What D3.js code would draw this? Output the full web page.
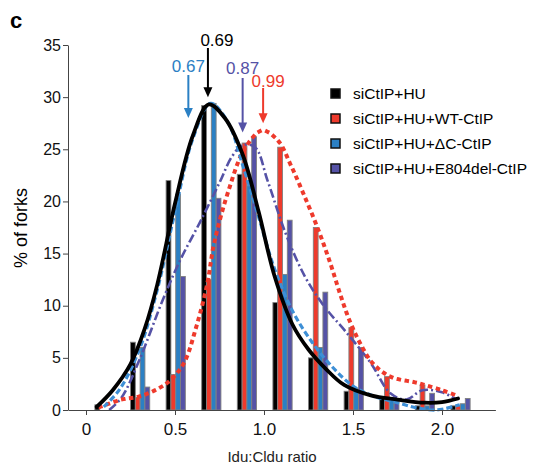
<!DOCTYPE html>
<html>
<head>
<meta charset="utf-8">
<script src="https://cdn.jsdelivr.net/npm/d3@7"></script>
<style>
  body { margin: 0; background: #fff; }
  svg { display: block; font-family: "Liberation Sans", Arial, sans-serif; }
  .tick text { fill: #111; }
  .domain, .tick line { stroke: #444; }
</style>
</head>
<body>
<svg id="chart" width="533" height="466"></svg>
<script>
// histogram bins (Idu:Cldu ratio) and % of forks per condition
const bins = [0.1, 0.3, 0.5, 0.7, 0.9, 1.1, 1.3, 1.5, 1.7, 1.9, 2.1];
const siHU     = [0.5, 6.5, 22.0, 29.2, 22.6, 10.3, 5.0, 1.8, 1.2, 0.4, 0.4];
const wtCtIP   = [0, 1.2, 3.4, 12.5, 25.6, 25.2, 17.5, 7.9, 3.2, 2.4, 0.4];
const dcCtIP   = [0, 6.0, 20.7, 29.4, 21.5, 13.0, 6.0, 2.1, 1.0, 0.4, 0.6];
const e804CtIP = [0, 2.2, 12.8, 20.3, 26.2, 18.2, 11.3, 6.0, 0.9, 1.6, 1.1];

// fitted curves as [ratio, %]
const siHUFit = [[0.06,0.3],[0.15,1.9],[0.25,4.4],[0.33,7.8],[0.4,12],[0.5,19.8],[0.6,26.3],[0.69,29.3],[0.78,28],[0.88,24.5],[0.97,19],[1.06,12.8],[1.16,8.2],[1.25,5.8],[1.35,3.9],[1.45,2.4],[1.6,1.4],[1.75,1.0],[1.9,0.7],[2.0,0.75],[2.09,1.1]];
const wtFit = [[0.08,0.3],[0.2,1.0],[0.3,1.3],[0.4,2.0],[0.47,2.8],[0.55,4.5],[0.62,8],[0.68,12],[0.72,16],[0.8,21],[0.89,25],[0.99,26.8],[1.08,25.8],[1.15,23.5],[1.22,20.8],[1.3,17.5],[1.37,14.2],[1.43,11],[1.48,8.6],[1.54,6.4],[1.61,4.5],[1.71,3.2],[1.86,2.6],[2.0,1.9],[2.08,1.4]];
const dcFit = [[0.1,0.3],[0.19,2.0],[0.3,5.8],[0.4,11.5],[0.5,19],[0.6,26],[0.7,29.4],[0.8,27.5],[0.88,23.5],[0.97,18.5],[1.06,13.5],[1.16,9.5],[1.27,6.5],[1.38,4.2],[1.5,2.3],[1.62,1.3],[1.75,0.7],[1.86,0.2],[1.97,0],[2.1,0.5]];
const e804Fit = [[0.13,0],[0.2,1.2],[0.3,4.8],[0.43,10.5],[0.53,14.4],[0.64,18],[0.75,21.8],[0.82,24.3],[0.88,25.4],[0.95,25.2],[1.02,22],[1.12,17],[1.23,12.8],[1.34,9.9],[1.46,7.5],[1.6,4.5],[1.71,1.6],[1.8,1.0],[1.89,1.9],[2.0,1.7],[2.08,1.0]];

const seriesNames = ['siCtIP+HU', 'siCtIP+HU+WT-CtIP', 'siCtIP+HU+\u0394C-CtIP', 'siCtIP+HU+E804del-CtIP'];
const colors = ['#000000', '#ee3a2c', '#2b80c4', '#5552a6'];

// median markers: label, where the arrow sits, and arrow tip height
const medianLabels = ['0.67', '0.69', '0.87', '0.99'];
const medianX = [0.575, 0.685, 0.88, 0.995];
const medianTip = [28.0, 30.0, 26.6, 27.5];

const yTicks = [0, 5, 10, 15, 20, 25, 30, 35];
const xTicks = [0, 0.5, 1.0, 1.5, 2.0];

const svg = d3.select('#chart');

const x = d3.scaleLinear().domain([-0.1, 2.3]).range([68.2, 495.4]);
const y = d3.scaleLinear().domain([0, 35]).range([410, 45]);

// bars: four per bin, side by side
const barW = 0.027;
const groups = [siHU, wtCtIP, dcCtIP, e804CtIP];
const barData = [];
bins.forEach((b, i) => {
	groups.forEach((g, s) => {
		if (g[i] > 0) barData.push({ bin: b, s: s, v: g[i] });
	});
});

svg.append('g')
	.attr('class', 'g_bars')
	.selectAll('rect')
	.data(barData).enter()
	.append('rect')
	.attr('x', d => x(d.bin - 0.05 + d.s * barW))
	.attr('y', d => y(d.v))
	.attr('width', x(barW) - x(0))
	.attr('height', d => y(0) - y(d.v))
	.style('fill', d => colors[d.s])
	.style('stroke', '#808080')
	.style('stroke-width', 0.9);

// fitted curves
const line = d3.line()
	.x(d => x(d[0]))
	.y(d => y(d[1]))
	.curve(d3.curveCatmullRom);

const fits = [
	{ pts: e804Fit, color: colors[3], w: 2.6, dash: '9 3 2 3', cap: 'butt' },
	{ pts: wtFit, color: colors[1], w: 4, dash: '0.5 7.5', cap: 'square' },
	{ pts: dcFit, color: '#3d8fd6', w: 3.2, dash: '6 3', cap: 'butt' },
	{ pts: siHUFit, color: '#000', w: 3.8, dash: null, cap: 'round' }
];

svg.append('g')
	.attr('class', 'g_fits')
	.selectAll('path')
	.data(fits).enter()
	.append('path')
	.attr('d', d => line(d.pts))
	.style('fill', 'none')
	.style('stroke', d => d.color)
	.style('stroke-width', d => d.w)
	.style('stroke-dasharray', d => d.dash)
	.style('stroke-linecap', d => d.cap);

// axes
const yAxis = svg.append('g')
	.attr('transform', 'translate(' + 68 + ',0)')
	.call(d3.axisLeft(y).tickValues(yTicks).tickSize(5).tickPadding(2).tickSizeOuter(0));
yAxis.selectAll('text').style('font-size', '16px');

const xAxis = svg.append('g')
	.attr('transform', 'translate(0,' + 410 + ')')
	.call(d3.axisBottom(x).tickValues(xTicks).tickSize(5).tickPadding(8).tickSizeOuter(0)
		.tickFormat(d => d === 0 ? '0' : d3.format('.1f')(d)));
xAxis.selectAll('text').style('font-size', '17px');

svg.append('text')
	.attr('transform', 'translate(27,228) rotate(-90)')
	.attr('text-anchor', 'middle')
	.style('font-size', '18px')
	.text('% of forks');

svg.append('text')
	.attr('x', 272)
	.attr('y', 462)
	.attr('text-anchor', 'middle')
	.style('font-size', '15px')
	.style('fill', '#222')
	.text('Idu:Cldu ratio');

svg.append('text')
	.attr('x', 10)
	.attr('y', 28)
	.style('font-size', '22px')
	.style('font-weight', 'bold')
	.text('c');

// median arrows
const arrowColors = [colors[2], colors[0], colors[3], colors[1]];
const arrowTop = [75, 48, 78, 88];
const labelY = [72, 46, 74, 87];
const labelDx = [0, 9, 0, 5];

const gArrows = svg.append('g').attr('class', 'g_arrows');
medianLabels.forEach((lab, i) => {
	const ax = x(medianX[i]);
	const tip = y(medianTip[i]);
	gArrows.append('line')
		.attr('x1', ax).attr('x2', ax)
		.attr('y1', arrowTop[i]).attr('y2', tip - 8)
		.style('stroke', arrowColors[i])
		.style('stroke-width', 2);
	gArrows.append('path')
		.attr('d', 'M' + (ax - 4.5) + ',' + (tip - 10) + 'L' + (ax + 4.5) + ',' + (tip - 10) + 'L' + ax + ',' + tip + 'Z')
		.style('fill', arrowColors[i]);
	gArrows.append('text')
		.attr('x', ax + labelDx[i])
		.attr('y', labelY[i])
		.attr('text-anchor', 'middle')
		.style('font-size', '17px')
		.style('fill', arrowColors[i])
		.text(lab);
});

// legend
const gLegend = svg.append('g').attr('class', 'g_legend');
seriesNames.forEach((name, i) => {
	const ly = 94 + i * 25;
	gLegend.append('rect')
		.attr('x', 331).attr('y', ly - 5)
		.attr('width', 9).attr('height', 9)
		.style('fill', colors[i])
		.style('stroke', '#111')
		.style('stroke-width', 1.5);
	gLegend.append('text')
		.attr('x', 353).attr('y', ly + 5)
		.style('font-size', '15.5px')
		.text(name);
});
</script>
</body>
</html>
